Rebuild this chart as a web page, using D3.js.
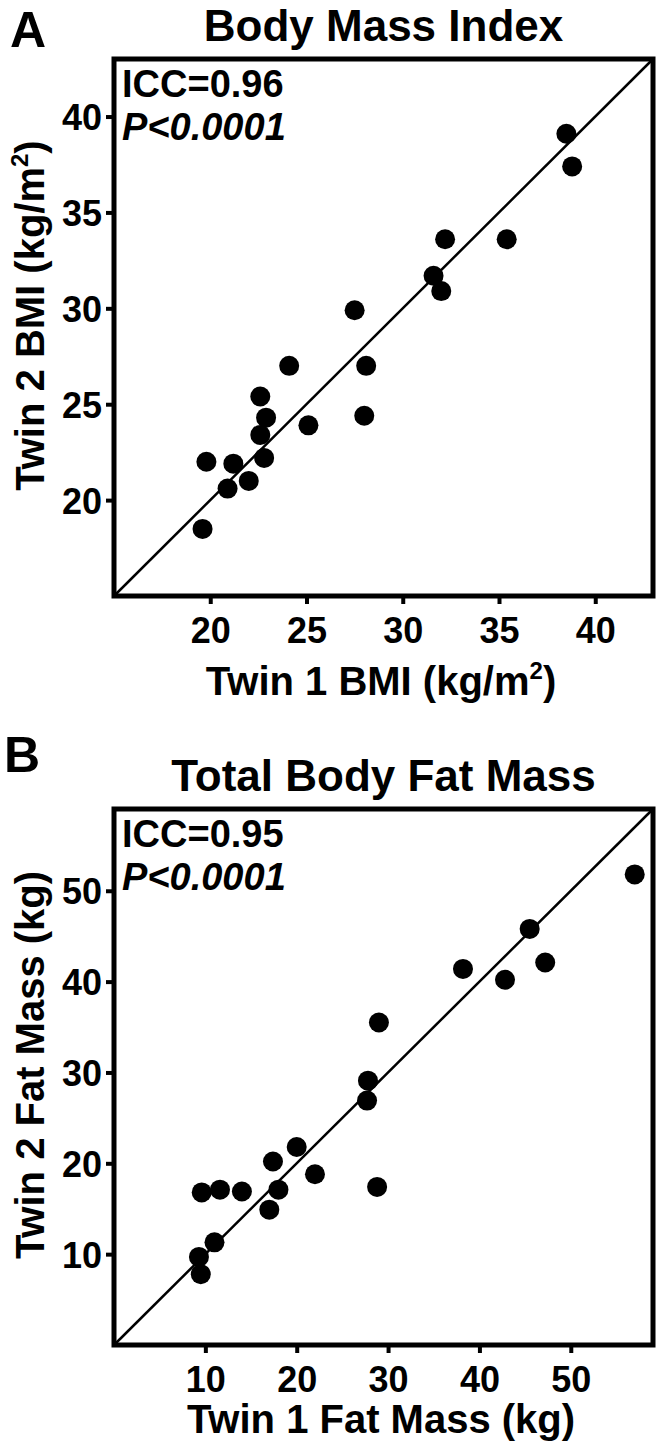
<!doctype html>
<html lang="en">
<head>
  <meta charset="utf-8">
  <title>Twin concordance</title>
  <style>
    body { margin: 0; background: #fff; }
    svg text { font-family: "Liberation Sans", Arial, sans-serif; font-weight: bold; fill: #000; }
  </style>
</head>
<body>
  <div id="vis"></div>
  <script src="https://d3js.org/d3.v7.min.js"></script>
  <script>
    // panel A - body mass index (kg/m2)
    const bmiTwin1 = [38.5, 38.8, 32.2, 35.4, 31.6, 32.0, 27.5, 28.1, 28.0, 24.1,
                      22.6, 22.9, 25.1, 22.6, 22.8, 19.8, 21.2, 22.0, 20.9, 19.6];
    const bmiTwin2 = [39.1, 37.4, 33.6, 33.6, 31.7, 30.9, 29.9, 27.0, 24.4, 27.0,
                      25.4, 24.3, 23.9, 23.4, 22.2, 22.0, 21.9, 21.0, 20.6, 18.5];
    const bmiTicks = [20, 25, 30, 35, 40];

    // panel B - total body fat mass (kg)
    const fatTwin1 = [57.0, 45.5, 38.2, 42.8, 47.2, 29.0, 27.8, 27.7, 28.8, 20.0,
                      17.4, 22.0, 18.0, 17.0, 9.6, 11.6, 14.0, 11.0, 9.3, 9.5];
    const fatTwin2 = [51.8, 45.8, 41.4, 40.2, 42.1, 35.5, 29.1, 26.9, 17.4, 21.8,
                      20.2, 18.8, 17.1, 14.9, 16.8, 17.1, 16.9, 11.3, 9.7, 7.8];
    const fatTicks = [10, 20, 30, 40, 50];

    const W = 660, H = 1447;
    const svg = d3.select('#vis')
      .append('svg')
        .attr('width', W)
        .attr('height', H);

    function drawPanel(opts) {
      const x = d3.scaleLinear().domain(opts.domain).range([114, 653]);
      const y = d3.scaleLinear().domain(opts.domain).range([opts.bottom, opts.top]);
      const g = svg.append('g');

      g.append('text')
        .attr('x', opts.letterX)
        .attr('y', opts.letterY)
        .style('font-size', '50px')
        .text(opts.letter);

      g.append('text')
        .attr('x', 383.5)
        .attr('y', opts.top - 18)
        .attr('text-anchor', 'middle')
        .style('font-size', '44px')
        .text(opts.title);

      // axes: short outward ticks, no domain path
      const xAxis = d3.axisBottom(x).tickValues(opts.ticks).tickSize(8).tickPadding(13).tickFormat(d3.format('d'));
      const yAxis = d3.axisLeft(y).tickValues(opts.ticks).tickSize(8).tickPadding(4).tickFormat(d3.format('d'));

      const gx = g.append('g')
        .attr('transform', 'translate(0,' + opts.bottom + ')')
        .call(xAxis);
      const gy = g.append('g')
        .attr('transform', 'translate(114,0)')
        .call(yAxis);
      [gx, gy].forEach(a => {
        a.select('.domain').remove();
        a.selectAll('line').attr('stroke', '#000').attr('stroke-width', 4);
        a.selectAll('text')
          .style('font-size', '36px')
          .style('font-family', '"Liberation Sans", Arial, sans-serif')
          .style('font-weight', 'bold');
      });
      gy.selectAll('text').attr('dy', '0.36em');

      // identity line
      g.append('line')
        .attr('x1', x(opts.domain[0]))
        .attr('y1', y(opts.domain[0]))
        .attr('x2', x(opts.domain[1]))
        .attr('y2', y(opts.domain[1]))
        .attr('stroke', '#000')
        .attr('stroke-width', 2.5);

      g.selectAll('.dot')
        .data(opts.xs.map((v, i) => [v, opts.ys[i]]))
        .enter()
        .append('circle')
          .attr('class', 'dot')
          .attr('cx', d => x(d[0]))
          .attr('cy', d => y(d[1]))
          .attr('r', 10)
          .attr('fill', '#000');

      g.append('rect')
        .attr('x', 114)
        .attr('y', opts.top)
        .attr('width', 653 - 114)
        .attr('height', opts.bottom - opts.top)
        .attr('fill', 'none')
        .attr('stroke', '#000')
        .attr('stroke-width', 5);

      g.append('text')
        .attr('x', 122)
        .attr('y', opts.top + 38)
        .style('font-size', '38px')
        .text(opts.icc);

      g.append('text')
        .attr('x', 122)
        .attr('y', opts.top + 81)
        .style('font-size', '38px')
        .style('font-style', 'italic')
        .text('P<0.0001');

      const xl = g.append('text')
        .attr('x', 381)
        .attr('y', opts.xLabelY)
        .attr('text-anchor', 'middle')
        .style('font-size', '40px');
      addLabel(xl, opts.xLabel);

      const yl = g.append('text')
        .attr('transform', 'translate(44,' + ((opts.top + opts.bottom) / 2 - 12) + ') rotate(-90)')
        .attr('text-anchor', 'middle')
        .style('font-size', '40px');
      addLabel(yl, opts.yLabel);
    }

    // label parts: [text, superscript?, back to baseline?]
    function addLabel(sel, parts) {
      parts.forEach(p => {
        const t = sel.append('tspan').text(p[0]);
        if (p[1]) t.style('font-size', '24px').attr('dy', '-16');
        else if (p[2]) t.attr('dy', '16');
      });
    }

    drawPanel({
      letter: 'A', letterX: 10, letterY: 47,
      title: 'Body Mass Index',
      top: 59, bottom: 596,
      domain: [15, 43],
      ticks: bmiTicks,
      xs: bmiTwin1, ys: bmiTwin2,
      icc: 'ICC=0.96',
      xLabelY: 695,
      xLabel: [['Twin 1 BMI (kg/m'], ['2', true], [')', false, true]],
      yLabel: [['Twin 2 BMI (kg/m'], ['2', true], [')', false, true]]
    });

    drawPanel({
      letter: 'B', letterX: 4, letterY: 772,
      title: 'Total Body Fat Mass',
      top: 809, bottom: 1345,
      domain: [0, 59],
      ticks: fatTicks,
      xs: fatTwin1, ys: fatTwin2,
      icc: 'ICC=0.95',
      xLabelY: 1433,
      xLabel: [['Twin 1 Fat Mass (kg)']],
      yLabel: [['Twin 2 Fat Mass (kg)']]
    });
  </script>
</body>
</html>
